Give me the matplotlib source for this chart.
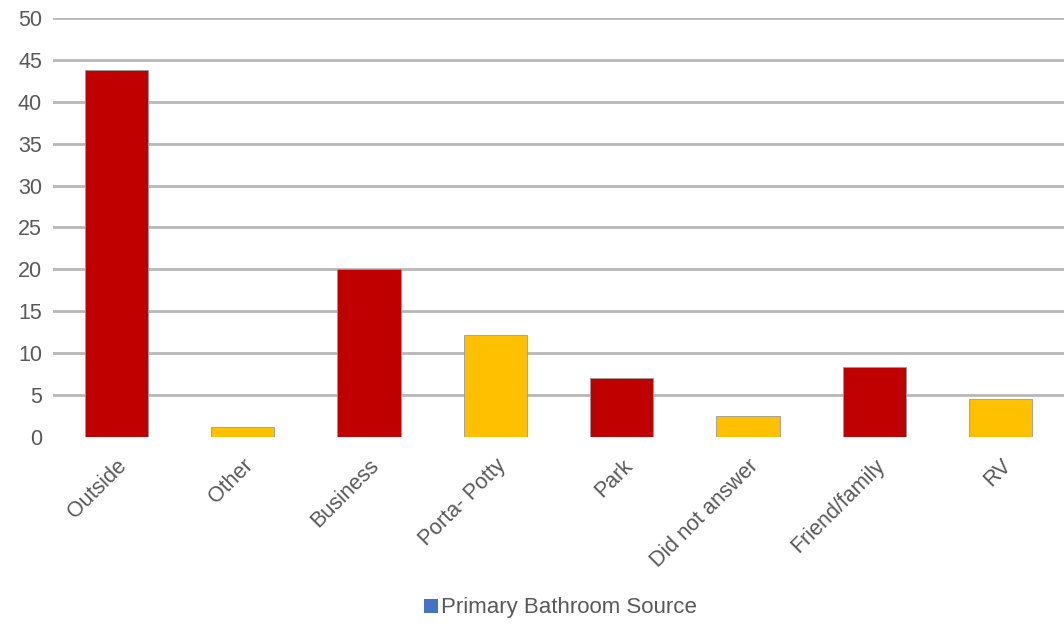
import matplotlib.pyplot as plt
from matplotlib.patches import Patch

categories = ['Outside', 'Other', 'Business', 'Porta- Potty', 'Park',
              'Did not answer', 'Friend/family', 'RV']
values = [43.8, 1.2, 20, 12.2, 7.05, 2.5, 8.4, 4.5]
bar_colors = ['#c00000', '#ffc000', '#c00000', '#ffc000', '#c00000',
              '#ffc000', '#c00000', '#ffc000']
series_name = 'Primary Bathroom Source'

plt.rcParams['font.family'] = ['Liberation Sans', 'DejaVu Sans']

fig = plt.figure(figsize=(10.64, 6.24), dpi=100)
ax = fig.add_axes([53 / 1064, 1 - 437 / 624, (1064 - 53) / 1064, (437 - 18) / 624])

x = range(len(categories))
ax.bar(x, values, width=0.5, color=bar_colors, edgecolor='#9a9a9a',
       linewidth=0.6, zorder=3)

ax.set_xlim(-0.5, len(categories) - 0.5)
ax.set_ylim(0, 50)
ax.set_yticks(range(0, 51, 5))
ax.yaxis.grid(True, color='#b8b8b8', linewidth=2, zorder=0)
ax.yaxis.get_gridlines()[0].set_visible(False)
ax.set_axisbelow(True)
for s in ax.spines.values():
    s.set_visible(False)
ax.tick_params(axis='both', length=0, labelsize=15.5, colors='#595959', pad=8)
ax.set_xticks(list(x))
ax.set_xticklabels(categories, rotation=45, ha='right', rotation_mode='anchor')
ax.tick_params(axis='x', pad=13)

handle = Patch(facecolor='#4472c4', edgecolor='none')
fig.legend([handle], [series_name], loc='center', bbox_to_anchor=(0.527, 1 - 608 / 624),
           frameon=False, fontsize=16, handlelength=0.6, handleheight=0.6,
           handletextpad=0.15, labelcolor='#595959')

fig.savefig('out.png', dpi=100)
